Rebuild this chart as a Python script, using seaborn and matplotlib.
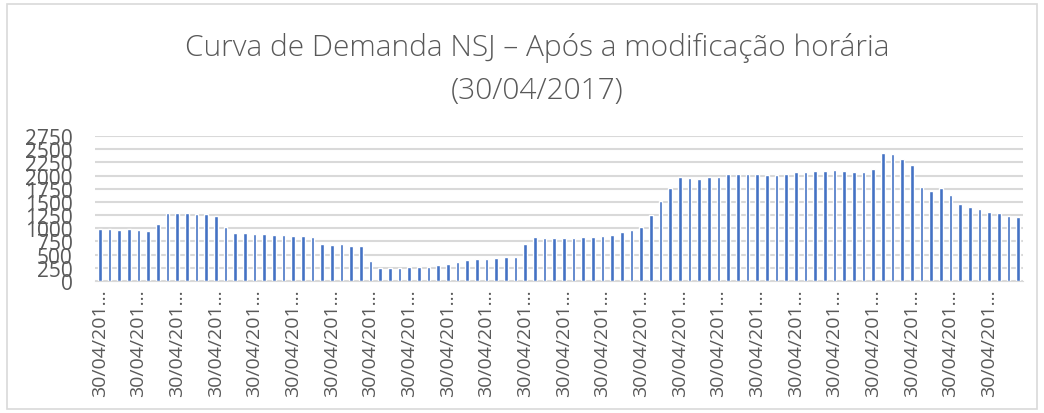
import matplotlib
matplotlib.use("Agg")
import matplotlib.pyplot as plt
import matplotlib.patches as mpatches
import pandas as pd
import seaborn as sns

# demand (kW) for each 15-min interval of 30/04/2017
demand = [
    988, 982, 976, 982, 969, 957, 1084, 1288,
    1288, 1282, 1276, 1263, 1231, 1033, 918, 912,
    899, 886, 880, 867, 861, 861, 829, 702,
    689, 708, 657, 657, 376, 242, 255, 255,
    261, 261, 274, 300, 313, 364, 395, 408,
    415, 434, 453, 453, 708, 829, 810, 810,
    810, 810, 829, 842, 861, 880, 931, 969,
    1020, 1250, 1518, 1767, 1977, 1952, 1939, 1964,
    1977, 2022, 2034, 2034, 2034, 2009, 2015, 2034,
    2073, 2073, 2085, 2092, 2105, 2092, 2066, 2073,
    2124, 2436, 2411, 2315, 2194, 1779, 1709, 1767,
    1626, 1454, 1397, 1365, 1314, 1295, 1237, 1212,
]
times = ["30/04/2017 %02d:%02d" % (h, m) for h in range(24) for m in (0, 15, 30, 45)]
y_ticks = [0, 250, 500, 750, 1000, 1250, 1500, 1750, 2000, 2250, 2500, 2750]
title = "Curva de Demanda NSJ – Após a modificação horária\n(30/04/2017)"

df = pd.DataFrame({"hora": times, "demanda": demand})

sns.set_style("white")
plt.rcParams["font.family"] = ["Open Sans", "DejaVu Sans"]
text_color = "#595959"

fig = plt.figure(figsize=(10.44, 4.14), dpi=100)
ax = fig.add_axes([95 / 1044, 1 - 282 / 414, (1023 - 95) / 1044, (282 - 137) / 414])

sns.barplot(data=df, x="hora", y="demanda", color="#4472C4", saturation=1,
            width=0.38, ax=ax)

ax.set_ylim(0, 2750)
ax.set_xlim(-0.5, len(demand) - 0.5)
ax.set_yticks(y_ticks)
ax.set_yticklabels([str(v) for v in y_ticks], fontsize=15, color=text_color)
ax.yaxis.grid(True, color="#D9D9D9", linewidth=1.5)
ax.set_axisbelow(True)

xt = list(range(0, len(demand), 4))
ax.set_xticks(xt)
ax.set_xticklabels([times[i][:9] + "…" for i in xt], rotation=90,
                   fontsize=14, color=text_color, va="top", ha="center")
ax.tick_params(axis="x", length=0, pad=5)
ax.tick_params(axis="y", length=0, pad=16)

for s in ["top", "right", "left"]:
    ax.spines[s].set_visible(False)
ax.spines["bottom"].set_color("#D9D9D9")
ax.set_xlabel("")
ax.set_ylabel("")

fig.text(537 / 1044, 1 - 69 / 414, title, ha="center", va="center",
         fontsize=21.5, fontweight="light", color=text_color, linespacing=1.6)

fig.patches.append(mpatches.Rectangle((7 / 1044, 4 / 414), 1 - 14 / 1044, 1 - 9 / 414,
                                      transform=fig.transFigure, fill=False,
                                      edgecolor="#D9D9D9", linewidth=1.2))

fig.savefig("out.png", dpi=100)
